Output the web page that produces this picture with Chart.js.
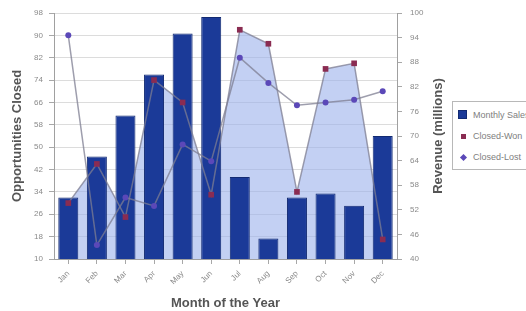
<!DOCTYPE html>
<html lang="en">
<head>
  <meta charset="UTF-8">
  <title>Opportunities Closed and Revenue</title>
  <script src="https://cdn.jsdelivr.net/npm/chart.js"></script>
  <style>
    html, body { margin: 0; padding: 0; background: #fff; overflow: hidden; }
    #wrap { position: relative; width: 526px; height: 311px; }
    #legend {
      position: absolute; left: 452px; top: 101px; width: 110px; height: 69px;
      border: 1px solid #b8b8b8; box-sizing: border-box; background: #fff;
      font: 9px Arial, "Liberation Sans", sans-serif; color: #808080;
    }
    .item { position: absolute; left: 0; height: 12px; line-height: 12px; white-space: nowrap; }
    .item span.mark { position: absolute; display: block; }
    .item span.txt { position: absolute; left: 20px; top: 0; }
  </style>
</head>
<body>
  <div id="wrap">
    <canvas id="chart" width="526" height="311"></canvas>
    <div id="legend"></div>
  </div>

  <script>
    // chart data
    const months = ['Jan', 'Feb', 'Mar', 'Apr', 'May', 'Jun', 'Jul', 'Aug', 'Sep', 'Oct', 'Nov', 'Dec'];
    const monthlySales = [55, 65, 75, 85, 95, 99, 60, 45, 55, 56, 53, 70];
    const closedWon = [30, 44, 25, 74, 66, 33, 92, 87, 34, 78, 80, 17];
    const closedLost = [90, 15, 32, 29, 51, 45, 82, 73, 65, 66, 67, 70];

    const font = 'Arial, "Liberation Sans", sans-serif';
    const tickFont = { family: font, size: 8 };
    const titleFont = { family: font, size: 13, weight: 'bold' };

    // right axis title reads bottom-to-top like the left one
    const rightTitle = {
      id: 'rightTitle',
      afterDraw(chart) {
        const s = chart.scales.revenue;
        const ctx = chart.ctx;
        ctx.save();
        ctx.translate(s.right - 12, (chart.chartArea.top + chart.chartArea.bottom) / 2);
        ctx.rotate(-Math.PI / 2);
        ctx.font = 'bold 13px ' + font;
        ctx.fillStyle = '#555';
        ctx.textAlign = 'center';
        ctx.textBaseline = 'middle';
        ctx.fillText('Revenue (millions)', 0, 0);
        ctx.restore();
      }
    };

    const chart = new Chart(document.getElementById('chart'), {
      data: {
        labels: months,
        datasets: [
          {
            type: 'line',
            label: 'Closed-Won',
            data: closedWon,
            yAxisID: 'opps',
            order: 1,
            fill: 'start',
            backgroundColor: 'rgba(155,176,235,0.6)',
            borderColor: 'rgba(125,125,145,0.75)',
            borderWidth: 1.5,
            tension: 0,
            pointStyle: 'rect',
            pointRadius: 4,
            pointBackgroundColor: '#8a2c52',
            pointBorderColor: '#8a2c52',
            pointBorderWidth: 0
          },
          {
            type: 'line',
            label: 'Closed-Lost',
            data: closedLost,
            yAxisID: 'opps',
            order: 2,
            fill: false,
            borderColor: 'rgba(125,125,145,0.75)',
            borderWidth: 1.5,
            tension: 0,
            pointRadius: 3,
            pointBackgroundColor: '#5b48b8',
            pointBorderColor: '#5b48b8',
            pointBorderWidth: 0
          },
          {
            type: 'bar',
            label: 'Monthly Sales',
            data: monthlySales,
            yAxisID: 'revenue',
            order: 3,
            backgroundColor: '#1b3a98',
            borderColor: '#122a72',
            borderWidth: 1,
            barPercentage: 0.7,
            categoryPercentage: 1
          }
        ]
      },
      options: {
        responsive: false,
        animation: false,
        layout: { padding: { top: 13, right: 76, left: 0, bottom: 0 } },
        plugins: {
          legend: { display: false },
          tooltip: { enabled: false },
          filler: { drawTime: 'beforeDatasetsDraw' }
        },
        scales: {
          x: {
            offset: true,
            grid: { offset: false, drawOnChartArea: false, tickLength: 5, color: '#a8a8a8' },
            border: { color: '#a0a0a0' },
            ticks: { font: tickFont, color: '#8a8a8a', minRotation: 45, maxRotation: 45, autoSkip: false, padding: 5 },
            title: { display: true, text: 'Month of the Year', font: titleFont, color: '#555', padding: { top: 0, bottom: 0 } },
            afterFit(s) { s.height = 52; }
          },
          opps: {
            position: 'left',
            min: 10, max: 98,
            ticks: { stepSize: 8, font: tickFont, color: '#8a8a8a', padding: 6 },
            grid: { color: '#dcdcdc', tickLength: 5, tickColor: '#a8a8a8' },
            border: { color: '#a0a0a0' },
            title: { display: true, text: 'Opportunities Closed', font: titleFont, color: '#555', padding: { top: 10, bottom: 0 } },
            afterFit(s) { s.width = 54; }
          },
          revenue: {
            position: 'right',
            min: 40, max: 100,
            ticks: { stepSize: 6, font: tickFont, color: '#8a8a8a', padding: 8 },
            grid: { drawOnChartArea: false, tickLength: 5, color: '#a8a8a8' },
            border: { color: '#a0a0a0' },
            afterFit(s) { s.width = 53; }
          }
        }
      },
      plugins: [rightTitle]
    });

    // legend box, partly cut off by the right edge as in the original
    const legend = document.getElementById('legend');
    const marks = {
      'Monthly Sales': { top: 7, css: 'left:5px;top:1px;width:9px;height:9px;background:#1b3a98;border:1px solid #122a72;box-sizing:border-box;' },
      'Closed-Won': { top: 28, css: 'left:8px;top:4px;width:5px;height:5px;background:#8a2c52;' },
      'Closed-Lost': { top: 49, css: 'left:8px;top:4px;width:5px;height:5px;background:#5b48b8;transform:rotate(45deg);' }
    };
    ['Monthly Sales', 'Closed-Won', 'Closed-Lost'].forEach(name => {
      const m = marks[name];
      const row = document.createElement('div');
      row.className = 'item';
      row.style.top = m.top + 'px';
      row.innerHTML = '<span class="mark" style="' + m.css + '"></span><span class="txt">' + name + '</span>';
      legend.appendChild(row);
    });
  </script>
</body>
</html>
